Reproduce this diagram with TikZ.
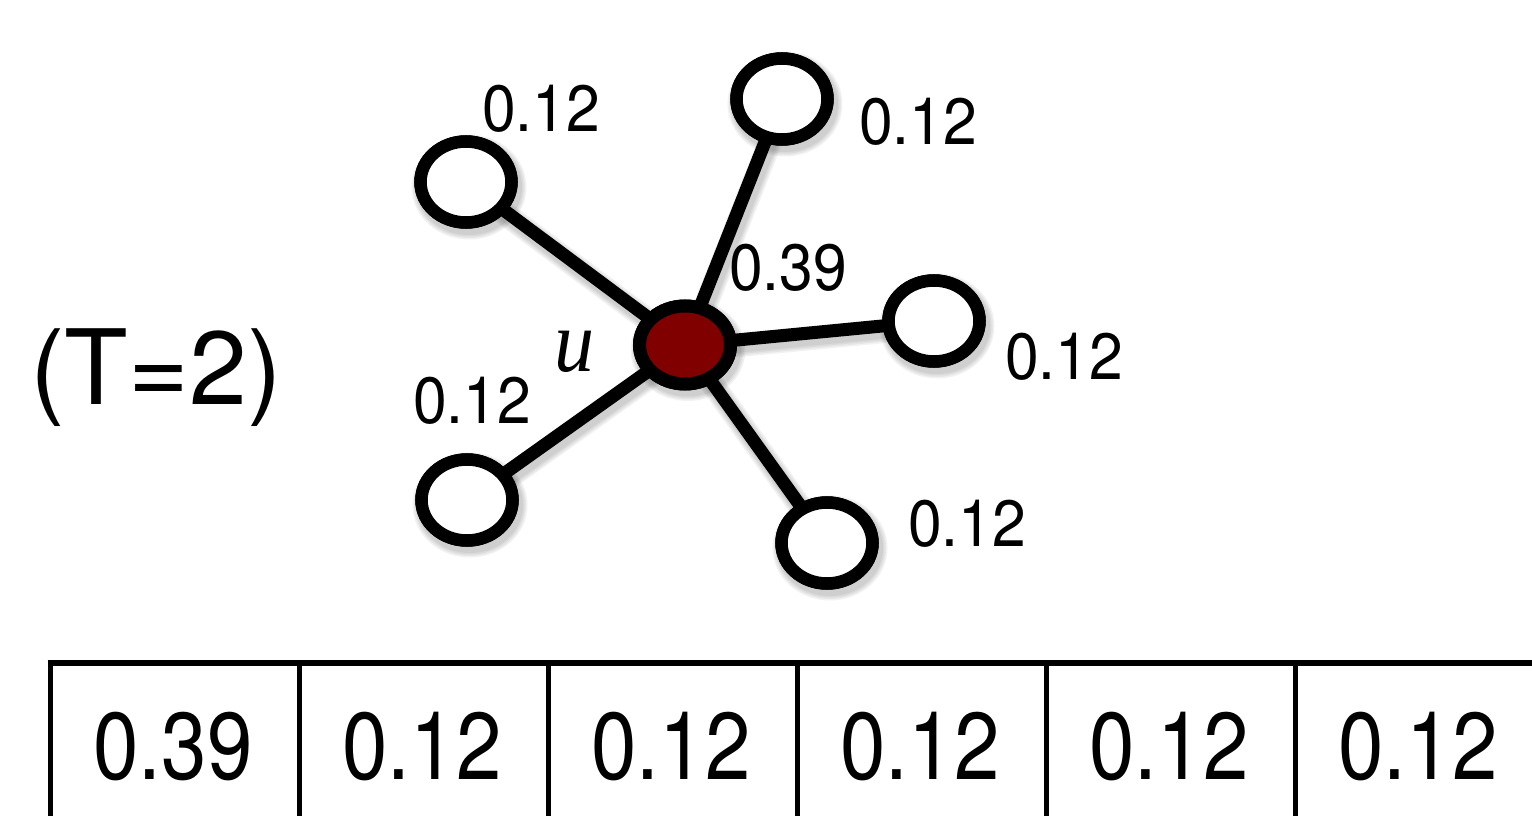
\documentclass[tikz,border=0pt]{standalone}
\usepackage{fontspec}
\setmainfont{TeX Gyre Heros}
\newfontfamily\ufont{Liberation Serif}
\usetikzlibrary{shapes.geometric}
\definecolor{hubred}{RGB}{128,0,0}
\pgfdeclarelayer{shadowlayer}
\pgfdeclarelayer{edgelayer}
\pgfsetlayers{shadowlayer,edgelayer,main}
\newcommand{\lblt}[1]{\scalebox{1}[1.08]{#1}}
\newcommand{\cellt}[1]{\scalebox{0.86}[1]{#1}}
\begin{document}
\begin{tikzpicture}[x=1pt,y=-1pt,
  vtx/.style={ellipse,draw=black,line width=12.5pt,fill=white,
    minimum width=91pt,minimum height=81pt,inner sep=0pt},
  hub/.style={vtx,fill=hubred,line width=13pt,minimum width=91pt,minimum height=78pt},
  edgeline/.style={line width=13pt,draw=black},
  shadowline/.style={draw=black,opacity=0.05},
  lbl/.style={inner sep=0pt,font=\fontsize{60.6}{62}\selectfont},
  celltext/.style={inner sep=0pt,font=\fontsize{95}{96}\selectfont},
  tabline/.style={line width=5pt,draw=black},
  tabtop/.style={line width=6pt,draw=black}
]
\useasboundingbox (0,0) rectangle (1532,816);

% vertices
\node[hub] (u) at (685,345) {};
\node[vtx] (tl) at (466,182) {};
\node[vtx] (tp) at (782,99) {};
\node[vtx] (rt) at (934,321) {};
\node[vtx] (br) at (827,543) {};
\node[vtx] (bl) at (467,500) {};

% edges (drawn on the main layer, then the vertices redrawn over them)
\draw[edgeline] (u.center) -- (tl.center);
\draw[edgeline] (u.center) -- (tp.center);
\draw[edgeline] (u.center) -- (rt.center);
\draw[edgeline] (u.center) -- (br.center);
\draw[edgeline] (u.center) -- (bl.center);
\node[hub] at (u.center) {};
\foreach \v in {tl,tp,rt,br,bl}{
  \node[vtx] at (\v.center) {};
}

% soft shadow
\begin{pgfonlayer}{shadowlayer}
\foreach \w in {15,18,21,24}{
  \foreach \v in {tl,tp,rt,br,bl}{
    \draw[shadowline,line width=\w pt] ([shift={(3,5)}]u.center) -- ([shift={(3,5)}]\v.center);
    \draw[shadowline,line width=\w pt] ([shift={(3,5)}]\v.center) ellipse [x radius=45.5,y radius=40.5];
  }
  \draw[shadowline,line width=\w pt] ([shift={(3,5)}]u.center) ellipse [x radius=45.5,y radius=39];
}
\end{pgfonlayer}

% labels
\node[lbl] (ltl) at (541,109) {\lblt{0.12}};
\node[lbl] (ltp) at (918,122) {\lblt{0.12}};
\node[lbl] (lu)  at (788,268) {\lblt{0.39}};
\node[lbl] (lrt) at (1064,357) {\lblt{0.12}};
\node[lbl] (lbr) at (967,524) {\lblt{0.12}};
\node[lbl] (lbl) at (472,401) {\lblt{0.12}};
\node[inner sep=0pt,font=\fontsize{80}{82}\selectfont\ufont\itshape] (uname) at (574,352) {\scalebox{1}[1.1]{u}};
\node[inner sep=0pt,font=\fontsize{104}{106}\selectfont] (tlabel) at (156,378) {(T=2)};

% table
\draw[tabtop] (47.5,663) -- (1532,663);
\foreach \x in {50,299,548,797,1046,1295.5}{
  \draw[tabline] (\x,663) -- (\x,816);
}
\node[celltext] (c1) at (173,747) {\cellt{0.39}};
\node[celltext] (c2) at (422,747) {\cellt{0.12}};
\node[celltext] (c3) at (671,747) {\cellt{0.12}};
\node[celltext] (c4) at (920,747) {\cellt{0.12}};
\node[celltext] (c5) at (1169,747) {\cellt{0.12}};
\node[celltext] (c6) at (1418,747) {\cellt{0.12}};
\end{tikzpicture}
\end{document}
